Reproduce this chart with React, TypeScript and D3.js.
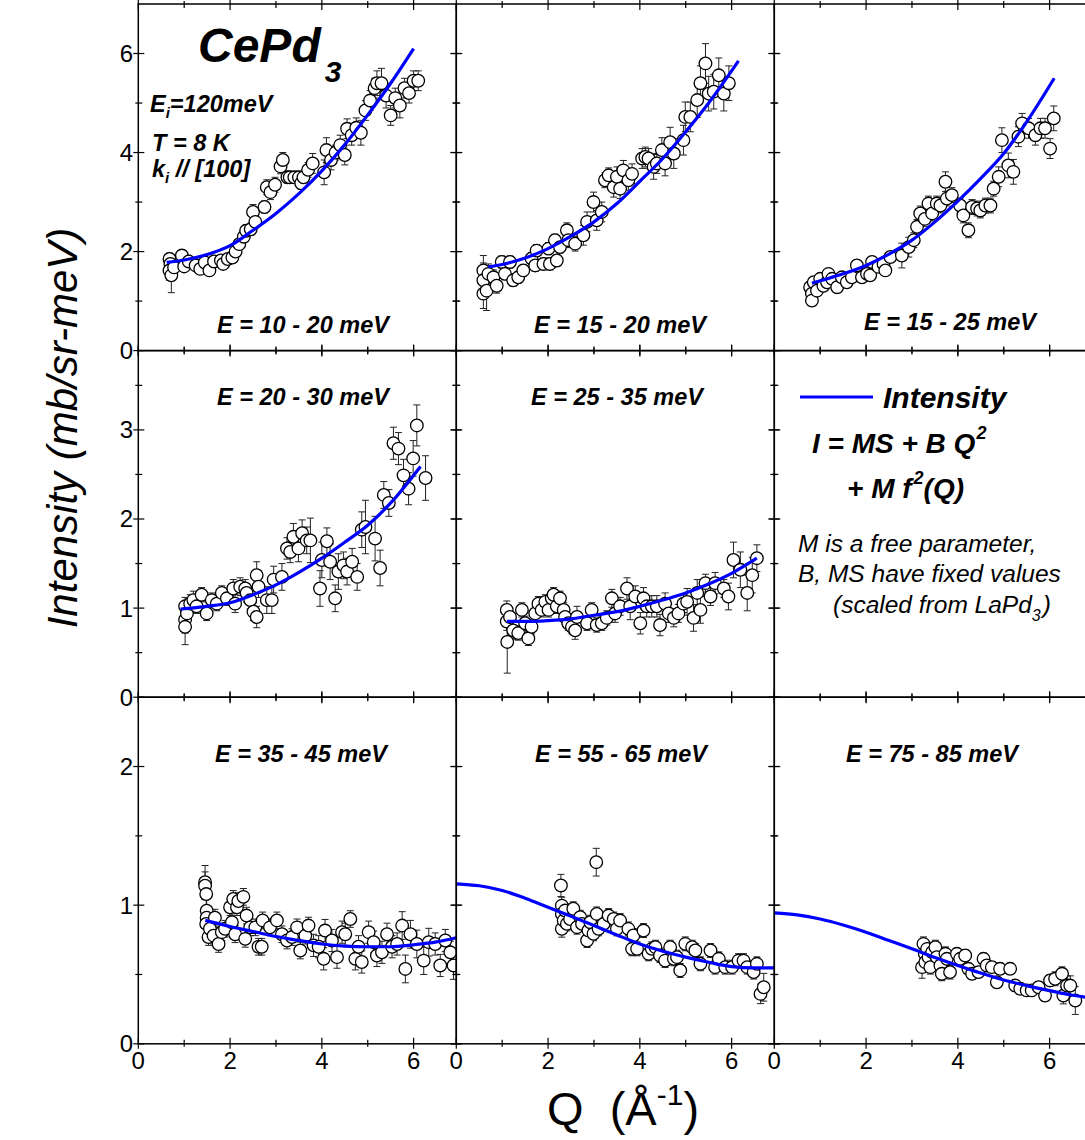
import React from "react";
import * as d3 from "d3";

const FONT = "'Liberation Sans', Arial, Helvetica, sans-serif";

// ---------- data: [Q, intensity, error] ----------
const p1Data: [number, number, number][] = [
  [0.68,1.85,0.12],[0.70,1.75,0.15],[0.68,1.62,0.2],[0.72,1.52,0.35],[0.78,1.68,0.12],[0.95,1.92,0.1],[1.0,1.70,0.1],[1.1,1.80,0.1],[1.25,1.72,0.1],[1.35,1.65,0.1],[1.45,1.78,0.1],[1.55,1.62,0.1],[1.65,1.80,0.1],[1.8,1.82,0.1],[1.85,1.75,0.1],[1.95,1.85,0.1],[2.05,1.88,0.1],[2.12,2.0,0.1],[2.2,2.15,0.1],[2.3,2.3,0.1],[2.35,2.42,0.12],[2.45,2.45,0.12],[2.5,2.8,0.15],[2.55,2.6,0.12],[2.75,2.9,0.12],[2.8,3.3,0.15],[2.88,3.2,0.15],[2.98,3.35,0.15],[3.1,3.72,0.15],[3.15,3.85,0.15],[3.25,3.5,0.12],[3.3,3.5,0.12],[3.4,3.5,0.12],[3.5,3.5,0.12],[3.55,3.38,0.12],[3.6,3.5,0.12],[3.7,3.65,0.15],[3.8,3.78,0.2],[4.05,3.6,0.25],[4.1,4.05,0.25],[4.2,3.85,0.2],[4.3,4.0,0.15],[4.4,4.15,0.2],[4.5,3.95,0.2],[4.55,4.48,0.2],[4.65,4.35,0.2],[4.75,4.5,0.2],[4.85,4.4,0.25],[4.95,4.85,0.2],[5.05,5.05,0.2],[5.15,5.3,0.2],[5.2,5.4,0.25],[5.3,5.4,0.3],[5.4,5.15,0.25],[5.5,4.75,0.2],[5.6,5.1,0.2],[5.7,4.95,0.25],[5.8,5.3,0.2],[5.9,5.2,0.2],[6.0,5.45,0.2],[6.1,5.45,0.2]
];
const p2Data: [number, number, number][] = [
  [0.59,1.62,0.3],[0.59,1.42,0.35],[0.59,1.15,0.3],[0.66,1.21,0.4],[0.70,1.55,0.2],[0.81,1.48,0.15],[0.88,1.31,0.15],[0.99,1.79,0.12],[1.06,1.55,0.12],[1.17,1.79,0.12],[1.24,1.42,0.12],[1.35,1.48,0.12],[1.46,1.62,0.12],[1.64,1.86,0.12],[1.72,1.72,0.12],[1.75,2.02,0.12],[1.90,1.75,0.12],[2.01,2.06,0.12],[2.04,1.75,0.12],[2.15,2.23,0.12],[2.19,1.82,0.12],[2.26,2.09,0.12],[2.41,2.43,0.15],[2.44,2.23,0.15],[2.59,2.16,0.15],[2.77,2.33,0.2],[2.85,2.60,0.2],[2.99,3.0,0.2],[3.06,2.63,0.2],[3.17,2.80,0.2],[3.24,3.44,0.15],[3.32,3.54,0.15],[3.43,3.30,0.2],[3.50,3.51,0.2],[3.57,3.27,0.2],[3.64,3.64,0.2],[3.75,3.44,0.2],[3.83,3.57,0.2],[4.05,3.88,0.2],[4.12,3.91,0.2],[4.19,3.88,0.2],[4.30,3.71,0.25],[4.37,3.78,0.2],[4.48,4.05,0.25],[4.55,3.78,0.25],[4.66,4.21,0.3],[4.74,3.98,0.3],[4.95,4.25,0.3],[4.99,4.72,0.3],[5.10,4.72,0.3],[5.25,5.06,0.35],[5.32,5.40,0.35],[5.43,5.80,0.4],[5.50,5.19,0.35],[5.61,5.23,0.35],[5.72,5.56,0.35],[5.83,5.19,0.35],[5.94,5.40,0.35]
];
const p3Data: [number, number, number][] = [
  [0.78,1.28,0.1],[0.82,1.15,0.1],[0.82,1.01,0.1],[0.86,1.38,0.1],[0.93,1.21,0.1],[1.0,1.45,0.08],[1.07,1.31,0.08],[1.15,1.38,0.08],[1.18,1.55,0.08],[1.26,1.45,0.08],[1.37,1.28,0.08],[1.47,1.48,0.08],[1.58,1.38,0.08],[1.69,1.48,0.08],[1.80,1.72,0.08],[1.91,1.48,0.08],[2.02,1.55,0.08],[2.09,1.52,0.08],[2.13,1.79,0.1],[2.27,1.69,0.1],[2.38,1.75,0.1],[2.42,1.62,0.1],[2.53,1.89,0.1],[2.78,1.92,0.25],[2.93,2.09,0.2],[3.04,2.23,0.15],[3.11,2.50,0.15],[3.18,2.77,0.15],[3.28,2.66,0.15],[3.36,2.97,0.15],[3.44,2.77,0.15],[3.54,2.97,0.15],[3.62,2.93,0.15],[3.73,3.41,0.2],[3.76,3.07,0.15],[3.87,3.14,0.15],[4.05,2.93,0.15],[4.12,2.73,0.15],[4.23,2.43,0.15],[4.31,2.90,0.15],[4.42,2.87,0.15],[4.49,2.83,0.15],[4.60,2.93,0.15],[4.71,2.93,0.15],[4.78,3.27,0.15],[4.89,3.51,0.2],[4.96,4.25,0.25],[5.10,3.74,0.25],[5.21,3.61,0.25],[5.32,4.32,0.2],[5.40,4.59,0.2],[5.54,4.49,0.2],[5.69,4.35,0.2],[5.80,4.49,0.2],[5.90,4.49,0.2],[6.01,4.08,0.2],[6.09,4.69,0.25]
];
const p4Data: [number, number, number][] = [
  [1.02,1.02,0.1],[1.02,0.87,0.15],[1.02,0.79,0.2],[1.06,0.94,0.1],[1.13,1.05,0.1],[1.20,1.09,0.1],[1.27,1.02,0.08],[1.38,1.15,0.08],[1.49,0.94,0.08],[1.60,1.09,0.08],[1.71,1.05,0.08],[1.82,1.17,0.08],[1.93,1.11,0.08],[2.07,1.22,0.1],[2.11,1.05,0.1],[2.22,1.24,0.1],[2.33,1.22,0.1],[2.36,1.17,0.1],[2.44,1.09,0.1],[2.51,0.96,0.1],[2.58,1.37,0.15],[2.58,0.90,0.12],[2.62,1.24,0.12],[2.80,1.09,0.15],[2.91,1.09,0.15],[2.95,1.32,0.15],[3.13,1.35,0.15],[3.24,1.67,0.12],[3.31,1.63,0.12],[3.38,1.80,0.15],[3.49,1.67,0.15],[3.57,1.84,0.15],[3.67,1.76,0.15],[3.75,1.76,0.25],[3.96,1.22,0.2],[4.00,1.54,0.2],[4.11,1.75,0.15],[4.18,1.52,0.2],[4.29,1.11,0.15],[4.36,1.41,0.2],[4.47,1.48,0.15],[4.55,1.41,0.15],[4.66,1.52,0.15],[4.77,1.35,0.15],[4.87,1.88,0.2],[4.95,1.91,0.3],[5.16,1.78,0.25],[5.27,1.45,0.2],[5.35,2.27,0.15],[5.46,2.18,0.15],[5.56,2.85,0.18],[5.67,2.79,0.18],[5.78,2.49,0.18],[5.89,2.34,0.18],[5.99,2.68,0.2],[6.07,3.05,0.23],[6.26,2.46,0.25]
];
const p5Data: [number, number, number][] = [
  [1.10,0.98,0.1],[1.10,0.85,0.1],[1.11,0.62,0.35],[1.17,0.90,0.1],[1.24,0.75,0.1],[1.35,0.72,0.08],[1.43,0.98,0.08],[1.50,0.83,0.08],[1.57,0.66,0.08],[1.64,0.79,0.08],[1.72,0.94,0.08],[1.79,1.05,0.08],[1.86,0.98,0.08],[1.94,1.07,0.08],[2.01,0.98,0.08],[2.08,1.11,0.08],[2.12,1.15,0.08],[2.19,1.02,0.08],[2.26,1.11,0.08],[2.34,0.98,0.08],[2.37,0.90,0.08],[2.44,0.83,0.08],[2.52,0.79,0.08],[2.59,0.75,0.1],[2.63,0.90,0.12],[2.85,0.83,0.08],[2.95,0.98,0.08],[3.06,0.81,0.08],[3.17,0.83,0.08],[3.28,0.89,0.08],[3.39,1.11,0.1],[3.46,0.94,0.1],[3.57,1.02,0.1],[3.72,1.22,0.12],[3.79,1.02,0.15],[3.90,1.13,0.12],[4.01,0.83,0.12],[4.08,1.11,0.12],[4.15,1.02,0.12],[4.26,1.02,0.12],[4.37,1.02,0.12],[4.44,0.81,0.12],[4.55,1.05,0.12],[4.63,0.94,0.1],[4.74,0.89,0.1],[4.84,0.94,0.1],[4.95,1.05,0.1],[5.03,1.07,0.15],[5.17,0.89,0.15],[5.25,1.17,0.15],[5.32,0.98,0.15],[5.43,1.28,0.1],[5.54,1.13,0.1],[5.64,1.28,0.12],[5.83,1.22,0.1],[5.93,1.13,0.15],[6.04,1.54,0.2],[6.19,1.43,0.2],[6.34,1.17,0.2],[6.45,1.37,0.2],[6.55,1.56,0.15]
];
const p7Data: [number, number, number][] = [
  [1.455,1.166,0.12],[1.455,1.14,0.1],[1.48,1.08,0.1],[1.49,0.96,0.08],[1.49,0.91,0.08],[1.48,0.865,0.08],[1.53,0.77,0.06],[1.56,0.83,0.06],[1.64,0.78,0.06],[1.67,0.91,0.06],[1.75,0.72,0.06],[1.82,0.805,0.06],[1.89,0.83,0.06],[2.0,0.985,0.06],[2.04,0.877,0.06],[2.07,1.045,0.06],[2.11,0.79,0.06],[2.15,0.985,0.06],[2.18,1.03,0.06],[2.29,1.06,0.06],[2.33,0.757,0.06],[2.36,0.925,0.06],[2.44,0.84,0.06],[2.55,0.84,0.06],[2.62,0.70,0.06],[2.69,0.70,0.06],[2.71,0.89,0.06],[2.87,0.84,0.06],[3.02,0.89,0.06],[3.13,0.79,0.06],[3.24,0.745,0.06],[3.35,0.77,0.06],[3.46,0.84,0.06],[3.53,0.673,0.06],[3.64,0.78,0.06],[3.71,0.853,0.06],[3.82,0.71,0.08],[3.93,0.70,0.08],[4.04,0.613,0.08],[4.07,0.817,0.08],[4.22,0.745,0.08],[4.33,0.625,0.08],[4.44,0.805,0.08],[4.51,0.79,0.08],[4.62,0.90,0.06],[4.73,0.613,0.08],[4.80,0.70,0.08],[4.87,0.59,0.08],[5.02,0.805,0.08],[5.13,0.733,0.08],[5.20,0.637,0.08],[5.31,0.66,0.08],[5.42,0.79,0.08],[5.53,0.70,0.08],[5.64,0.72,0.08],[5.75,0.853,0.1],[5.82,0.54,0.1],[5.93,0.79,0.1],[6.07,0.72,0.1],[6.22,0.60,0.1],[6.33,0.733,0.1],[6.47,0.72,0.08],[6.58,0.565,0.08],[6.69,0.745,0.08],[6.80,0.66,0.08],[6.87,0.565,0.1]
];
const p8Data: [number, number, number][] = [
  [2.28,1.142,0.08],[2.30,0.997,0.06],[2.30,0.937,0.06],[2.30,0.829,0.06],[2.34,0.889,0.06],[2.37,0.961,0.05],[2.41,0.865,0.05],[2.48,0.90,0.05],[2.55,0.974,0.05],[2.63,0.841,0.05],[2.70,0.913,0.05],[2.74,0.865,0.05],[2.85,0.745,0.05],[2.88,0.817,0.05],[2.92,0.877,0.05],[2.99,0.793,0.05],[3.05,1.31,0.1],[3.06,0.937,0.05],[3.10,0.829,0.05],[3.21,0.865,0.05],[3.32,0.925,0.05],[3.43,0.90,0.05],[3.50,0.829,0.05],[3.57,0.889,0.05],[3.75,0.829,0.05],[3.83,0.685,0.05],[3.86,0.781,0.05],[3.94,0.685,0.05],[4.08,0.817,0.05],[4.19,0.649,0.05],[4.26,0.685,0.05],[4.34,0.697,0.05],[4.44,0.637,0.05],[4.55,0.60,0.05],[4.66,0.697,0.05],[4.74,0.613,0.05],[4.81,0.625,0.05],[4.88,0.529,0.05],[4.99,0.721,0.05],[5.14,0.697,0.05],[5.21,0.673,0.05],[5.32,0.577,0.05],[5.54,0.673,0.05],[5.64,0.553,0.05],[5.72,0.613,0.05],[5.86,0.553,0.05],[6.01,0.553,0.05],[6.15,0.60,0.05],[6.26,0.60,0.05],[6.34,0.553,0.05],[6.48,0.517,0.05],[6.55,0.577,0.05],[6.63,0.36,0.07],[6.70,0.408,0.1]
];
const p9Data: [number, number, number][] = [
  [3.22,0.553,0.08],[3.25,0.721,0.05],[3.28,0.649,0.05],[3.29,0.589,0.06],[3.33,0.685,0.05],[3.36,0.625,0.05],[3.40,0.553,0.05],[3.44,0.661,0.05],[3.51,0.697,0.05],[3.54,0.625,0.05],[3.62,0.565,0.05],[3.65,0.505,0.05],[3.73,0.649,0.05],[3.76,0.613,0.05],[3.83,0.517,0.05],[3.98,0.649,0.04],[4.05,0.613,0.04],[4.16,0.637,0.04],[4.23,0.541,0.04],[4.31,0.505,0.04],[4.45,0.517,0.04],[4.56,0.613,0.04],[4.63,0.565,0.04],[4.74,0.553,0.04],[4.85,0.444,0.04],[4.92,0.541,0.04],[5.14,0.541,0.04],[5.25,0.42,0.04],[5.36,0.397,0.04],[5.50,0.385,0.04],[5.61,0.385,0.04],[5.76,0.408,0.04],[5.90,0.348,0.04],[6.01,0.457,0.04],[6.12,0.469,0.05],[6.27,0.505,0.05],[6.30,0.348,0.06],[6.38,0.42,0.07],[6.45,0.42,0.07],[6.56,0.312,0.1]
];

// ---------- fitted intensity curves ----------
const p1CurveQ = [0.62,1,1.5,2,2.5,3,3.5,4,4.5,5,5.5,6.0];
const p1CurveI = [1.78,1.83,1.94,2.12,2.43,2.77,3.17,3.63,4.16,4.76,5.40,6.10];
const p2CurveQ = [0.7,1,1.5,2,2.5,3,3.5,4,4.5,5,5.5,6.15];
const p2CurveI = [1.69,1.74,1.87,2.06,2.31,2.6,2.97,3.42,3.88,4.42,5.0,5.85];
const p3CurveQ = [0.82,1.0,1.5,2.0,2.5,3.0,3.5,4.0,4.5,5.0,5.5,6.1];
const p3CurveI = [1.36,1.41,1.55,1.72,1.95,2.23,2.6,3.02,3.48,3.98,4.62,5.5];
const p4CurveQ = [0.92,1.5,2,2.5,3,3.5,4,4.5,5,5.5,6.15];
const p4CurveI = [0.99,1.02,1.06,1.15,1.26,1.40,1.56,1.74,1.93,2.18,2.59];
const p5CurveQ = [1.1,1.5,2,2.5,3,3.5,4,4.5,5,5.5,6,6.55];
const p5CurveI = [0.85,0.85,0.86,0.88,0.92,0.96,1.02,1.09,1.17,1.27,1.39,1.56];
const p7CurveQ = [1.46,2,2.5,3,3.5,4,4.5,5,5.5,6,6.5,6.93];
const p7CurveI = [0.89,0.846,0.81,0.774,0.745,0.72,0.705,0.70,0.70,0.714,0.735,0.765];
const p8CurveQ = [0,0.5,1,1.5,2,2.5,3,3.5,4,4.5,5,5.5,6,6.5,6.93];
const p8CurveI = [1.154,1.14,1.106,1.05,0.985,0.92,0.853,0.785,0.72,0.668,0.625,0.588,0.557,0.548,0.548];
const p9CurveQ = [0,0.5,1,1.5,2,2.5,3,3.5,4,4.5,5,5.5,6,6.5,6.93];
const p9CurveI = [0.945,0.93,0.90,0.857,0.805,0.745,0.685,0.623,0.565,0.51,0.46,0.42,0.384,0.35,0.33];

// ---------- labels / ticks ----------
const energyLabels = ["E = 10 - 20 meV","E = 15 - 20 meV","E = 15 - 25 meV","E = 20 - 30 meV","E = 25 - 35 meV","","E = 35 - 45 meV","E = 55 - 65 meV","E = 75 - 85 meV"];
const rowYMax = [7, 3.89, 2.5];
const rowMajorTicks = [[0,2,4,6],[0,1,2,3],[0,1,2]];
const rowMinorTicks = [[1,3,5],[0.5,1.5,2.5,3.5],[0.5,1.5]];
const xMajorTicks = [0,2,4,6];
const xMinorTicks = [1,3,5];
const qMax = 6.93;

// ---------- layout ----------
const colX = [138.3, 456.3, 774.3];
const rowY = [4, 350.6, 697.2];
const panelW = 318;
const panelH = 346.6;
const labelPos: [number, number][] = [
  [164.7,329],[163.7,329],[175.7,326],
  [164.7,54.4],[160.7,54.4],[0,0],
  [162.7,64.8],[164.7,64.8],[157.7,64.8]
];

const panelData = [p1Data,p2Data,p3Data,p4Data,p5Data,null,p7Data,p8Data,p9Data];
const panelCurves: ([number[], number[]] | null)[] = [
  [p1CurveQ,p1CurveI],[p2CurveQ,p2CurveI],[p3CurveQ,p3CurveI],
  [p4CurveQ,p4CurveI],[p5CurveQ,p5CurveI],null,
  [p7CurveQ,p7CurveI],[p8CurveQ,p8CurveI],[p9CurveQ,p9CurveI]
];

const BLUE = "#0000ff";

function Panel({ idx }: { idx: number }) {
  const r = Math.floor(idx / 3);
  const c = idx % 3;
  const x0 = colX[c];
  const y0 = rowY[r];
  const x = d3.scaleLinear().domain([0, qMax]).range([x0, x0 + panelW]);
  const y = d3.scaleLinear().domain([0, rowYMax[r]]).range([y0 + panelH, y0]);
  const data = panelData[idx];
  const curve = panelCurves[idx];
  const clipId = `clip${idx}`;
  let pathD: string | null = null;
  if (curve) {
    const pts: [number, number][] = curve[0].map((q, i) => [q, curve[1][i]]);
    pathD = d3.line<[number, number]>()
      .x(d => x(d[0]))
      .y(d => y(d[1]))
      .curve(d3.curveMonotoneX)(pts);
  }
  const yb = y0 + panelH;
  const xr = x0 + panelW;
  const ticks: JSX.Element[] = [];
  rowMajorTicks[r].forEach((v, i) => {
    const yy = y(v);
    ticks.push(<line key={`yl${i}`} x1={x0 - 5} x2={x0 + 6} y1={yy} y2={yy} />);
    ticks.push(<line key={`yr${i}`} x1={xr - 6} x2={xr + 5} y1={yy} y2={yy} />);
  });
  rowMinorTicks[r].forEach((v, i) => {
    const yy = y(v);
    ticks.push(<line key={`ylm${i}`} x1={x0 - 3} x2={x0 + 4} y1={yy} y2={yy} />);
    ticks.push(<line key={`yrm${i}`} x1={xr - 4} x2={xr + 3} y1={yy} y2={yy} />);
  });
  xMajorTicks.forEach((v, i) => {
    const xx = x(v);
    ticks.push(<line key={`xb${i}`} x1={xx} x2={xx} y1={yb - 6} y2={yb + 5} />);
    ticks.push(<line key={`xt${i}`} x1={xx} x2={xx} y1={y0 - 5} y2={y0 + 6} />);
  });
  xMinorTicks.forEach((v, i) => {
    const xx = x(v);
    ticks.push(<line key={`xbm${i}`} x1={xx} x2={xx} y1={yb - 4} y2={yb + 3} />);
    ticks.push(<line key={`xtm${i}`} x1={xx} x2={xx} y1={y0 - 3} y2={y0 + 4} />);
  });

  return (
    <g>
      <defs>
        <clipPath id={clipId}>
          <rect x={x0} y={y0} width={panelW} height={panelH} />
        </clipPath>
      </defs>
      <g clipPath={`url(#${clipId})`}>
        {data && data.map((d, i) => {
          const cx = x(d[0]);
          const top = y(d[1] + d[2]);
          const bot = y(d[1] - d[2]);
          return (
            <g key={`e${i}`} stroke="#222" strokeWidth={1}>
              <line x1={cx} x2={cx} y1={top} y2={bot} />
              <line x1={cx - 3.5} x2={cx + 3.5} y1={top} y2={top} />
              <line x1={cx - 3.5} x2={cx + 3.5} y1={bot} y2={bot} />
            </g>
          );
        })}
        {data && data.map((d, i) => (
          <circle key={`c${i}`} cx={x(d[0])} cy={y(d[1])} r={6.3} fill="#fff" stroke="#000" strokeWidth={1.3} />
        ))}
        {pathD && <path d={pathD} fill="none" stroke={BLUE} strokeWidth={3.2} />}
      </g>
      <rect x={x0} y={y0} width={panelW} height={panelH} fill="none" stroke="#000" strokeWidth={1.5} />
      <g stroke="#000" strokeWidth={1.2}>{ticks}</g>
      {energyLabels[idx] && (
        <text x={x0 + labelPos[idx][0]} y={y0 + labelPos[idx][1]} textAnchor="middle"
          fontSize={23.5} fontWeight="bold" fontStyle="italic" style={{ whiteSpace: "pre" }}>
          {energyLabels[idx]}
        </text>
      )}
      {c === 0 && rowMajorTicks[r].map((v, i) => (
        <text key={`yt${i}`} x={133} y={y(v) + 8.5} textAnchor="end" fontSize={24}>{v}</text>
      ))}
      {r === 2 && xMajorTicks.map((v, i) => (
        <text key={`xt${i}`} x={x(v)} y={1069} textAnchor="middle" fontSize={24}>{v}</text>
      ))}
    </g>
  );
}

export default function App() {
  const idxs = [0,1,2,3,4,5,6,7,8];
  return (
    <svg width={1085} height={1140} style={{ position: "absolute", left: 0, top: 0, background: "#fff" }}
      fontFamily={FONT}>
      <rect x={0} y={0} width={1085} height={1140} fill="#fff" />
      {idxs.map(i => <Panel key={i} idx={i} />)}

      {/* Panel 1 annotations */}
      <text x={198} y={62} fontSize={48} fontWeight="bold" fontStyle="italic">
        CePd<tspan fontSize={30} dx={4} dy={20}>3</tspan>
      </text>
      <text x={150} y={112} fontSize={23.5} fontWeight="bold" fontStyle="italic">
        E<tspan fontSize={15} dy={6}>i</tspan><tspan dy={-6}>=120meV</tspan>
      </text>
      <text x={152} y={151} fontSize={23.5} fontWeight="bold" fontStyle="italic" style={{ whiteSpace: "pre" }}>
        T = 8 K
      </text>
      <text x={152} y={177} fontSize={23.5} fontWeight="bold" fontStyle="italic" style={{ whiteSpace: "pre" }}>
        k<tspan fontSize={15} dy={6}>i</tspan><tspan dy={-6}>{" // [100]"}</tspan>
      </text>

      {/* Legend panel */}
      <line x1={800} x2={873} y1={397} y2={397} stroke={BLUE} strokeWidth={3.2} />
      <text x={883} y={408} fontSize={30} fontWeight="bold" fontStyle="italic">Intensity</text>
      <text x={812} y={453} fontSize={28} fontWeight="bold" fontStyle="italic" style={{ whiteSpace: "pre" }}>
        {"I = MS + B Q"}<tspan fontSize={18} dx={1} dy={-14}>2</tspan>
      </text>
      <text x={847} y={498} fontSize={28} fontWeight="bold" fontStyle="italic" style={{ whiteSpace: "pre" }}>
        {"+ M f"}<tspan fontSize={18} dx={2} dy={-14}>2</tspan><tspan dy={14}>(Q)</tspan>
      </text>
      <text x={798} y={552} fontSize={24.5} fontStyle="italic">M is a free parameter,</text>
      <text x={798} y={582} fontSize={24.5} fontStyle="italic">B, MS have fixed values</text>
      <text x={833} y={613} fontSize={24.5} fontStyle="italic">
        (scaled from LaPd<tspan fontSize={16} dy={8}>3</tspan><tspan dx={2} dy={-8}>)</tspan>
      </text>

      {/* Axis titles */}
      <text x={547} y={1125} fontSize={47} style={{ whiteSpace: "pre" }}>
        {"Q  (Å"}<tspan fontSize={30} dy={-20}>-1</tspan><tspan dy={20}>)</tspan>
      </text>
      <text transform="translate(77,428) rotate(-90)" textAnchor="middle" fontSize={42} fontStyle="italic">
        Intensity (mb/sr-meV)
      </text>
    </svg>
  );
}
